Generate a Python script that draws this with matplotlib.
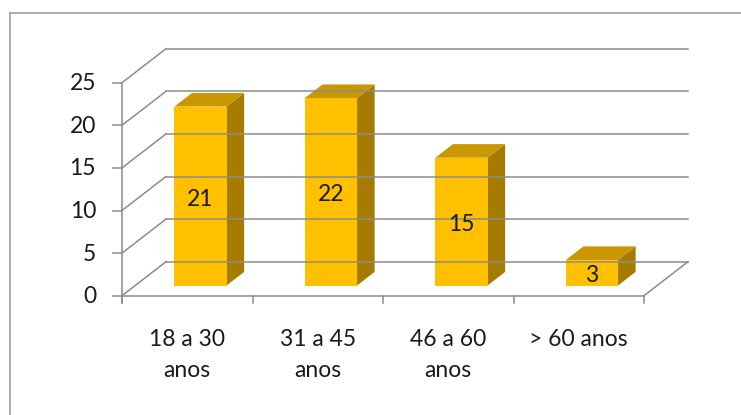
# -*- coding: utf-8 -*-
import matplotlib.pyplot as plt
import numpy as np
from matplotlib.patches import Polygon
from matplotlib.lines import Line2D
from matplotlib.transforms import IdentityTransform

# fonte parecida com Calibri
plt.rcParams['font.family'] = ['Lato', 'DejaVu Sans']

# dados do grafico
categorias = ['18 a 30\nanos', '31 a 45\nanos', '46 a 60\nanos', '> 60 anos']
valores = [21, 22, 15, 3]
ticks_y = [0, 5, 10, 15, 20, 25]

# cores (estilo Excel)
cor_frente = '#FFC000'
cor_lado = '#A67C00'
cor_topo = '#C99700'
cor_grade = '#8C8C8C'
cor_texto = '#1A1A1A'

# profundidade 3D em pixels (x, y para cima)
PROF = np.array([44.0, 34.0])
FS = 16.5

fig = plt.figure(figsize=(7.41, 4.15), dpi=100)
ax = fig.add_axes([122 / 741, 119.3 / 415, 522 / 741, 213 / 415])
ax.set_xlim(0, len(categorias))
ax.set_ylim(0, ticks_y[-1])
ax.axis('off')
ident = IdentityTransform()


# converte (x, y, profundidade) para pixels da figura
def ponto(x, y, d=0.0, dx=0.0, dy=0.0):
    p = ax.transData.transform((x, y))
    return p + d * PROF + np.array([dx, dy])


def linha(p1, p2, **kw):
    ax.add_line(Line2D([p1[0], p2[0]], [p1[1], p2[1]], transform=ident,
                       color=cor_grade, lw=1.1, clip_on=False, **kw))


def face(pts, cor):
    ax.add_patch(Polygon(np.array(pts), closed=True, transform=ident,
                         facecolor=cor, edgecolor='none', clip_on=False))


n = len(categorias)

# grade da parede do fundo e da parede lateral
for v in ticks_y:
    linha(ponto(0, v, 1), ponto(n, v, 1))
    linha(ponto(0, v, 0), ponto(0, v, 1))
    linha(ponto(0, v, 0, dx=-9), ponto(0, v, 0))
    ax.text(*ponto(0, v, 0, dx=-26, dy=-1), str(v), transform=ident, ha='right',
            va='center', fontsize=FS, color=cor_texto)

# eixos da frente e piso
linha(ponto(0, 0, 0, dy=-7), ponto(0, ticks_y[-1], 0))
linha(ponto(0, 0, 0), ponto(n, 0, 0))
linha(ponto(n, 0, 0), ponto(n, 0, 1))
for i in range(n + 1):
    linha(ponto(i, 0, 0, dy=-7), ponto(i, 0, 0))

# barras 3D
larg = 0.4
d0, d1 = 0.3, 0.7
for i, v in enumerate(valores):
    x0 = i + 0.5 - larg / 2
    x1 = i + 0.5 + larg / 2
    face([ponto(x1, 0, d0), ponto(x1, 0, d1), ponto(x1, v, d1), ponto(x1, v, d0)], cor_lado)
    face([ponto(x0, v, d0), ponto(x1, v, d0), ponto(x1, v, d1), ponto(x0, v, d1)], cor_topo)
    face([ponto(x0, 0, d0), ponto(x1, 0, d0), ponto(x1, v, d0), ponto(x0, v, d0)], cor_frente)
    ax.text(*ponto(i + 0.5, v / 2, d0, dy=-3), str(v), transform=ident, ha='center',
            va='center', fontsize=FS, color=cor_texto)

# rotulos das categorias
for i, c in enumerate(categorias):
    ax.text(*ponto(i + 0.5, 0, 0, dy=-33), c, transform=ident, ha='center',
            va='top', fontsize=FS, color=cor_texto, linespacing=1.6)

# borda da area do grafico
xb = 10 / 741
yb = 1 - 13 / 415
fig.add_artist(Line2D([xb, xb], [0, yb], transform=fig.transFigure, color='#A0A0A0', lw=1.2))
fig.add_artist(Line2D([xb, 1], [yb, yb], transform=fig.transFigure, color='#A0A0A0', lw=1.2))

fig.savefig('out.png', dpi=100)
